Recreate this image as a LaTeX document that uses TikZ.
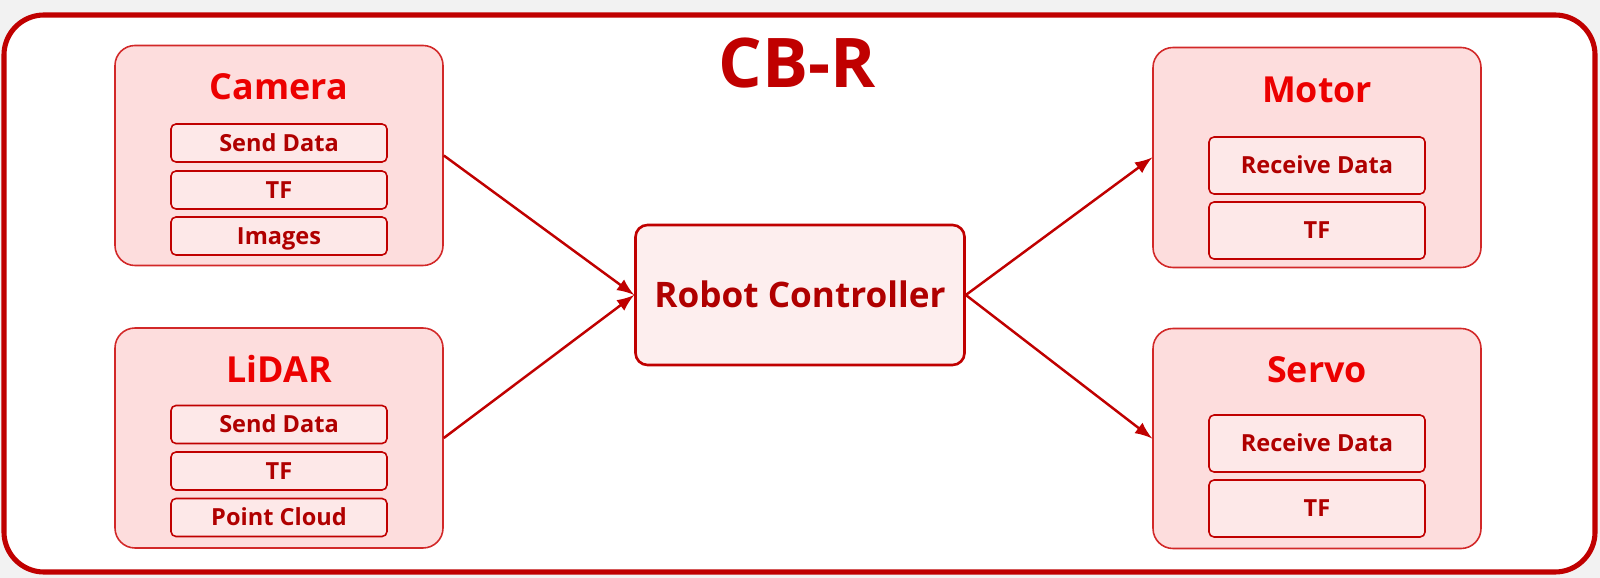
\documentclass[tikz,border=0pt]{standalone}
\usepackage{fontspec}
\setmainfont{Open Sans}
\usetikzlibrary{arrows,positioning}
\definecolor{cbred}{RGB}{192,0,0}
\definecolor{titlered}{RGB}{236,0,0}
\definecolor{itemred}{RGB}{176,0,0}
\definecolor{grpline}{RGB}{210,40,40}
\definecolor{grpfill}{RGB}{253,221,221}
\definecolor{itemfill}{RGB}{253,232,232}
\definecolor{ctrlfill}{RGB}{253,238,238}
\definecolor{bggray}{RGB}{242,242,242}
\begin{document}
\begin{tikzpicture}[auto,every text node part/.style={align=center},
    group/.style={draw=grpline,fill=grpfill,line width=.45pt,rounded corners=.2cm,minimum width=3.28cm,minimum height=2.2cm,inner sep=0pt},
    grptitle/.style={text=titlered,font=\bfseries\fontsize{10.2}{12}\selectfont,text height=7.3pt,text depth=0pt},
    item/.style={draw=cbred,fill=itemfill,line width=.45pt,rounded corners=.05cm,minimum width=2.16cm,minimum height=.38cm,inner sep=0pt,text=itemred,font=\bfseries\fontsize{6.7}{8}\selectfont,text height=4.8pt,text depth=0pt},
    bigitem/.style={item,minimum height=.57cm},
    link/.style={->,>=latex,draw=cbred,line width=.7pt}]
    \fill[bggray] (0,0) rectangle (16,-5.78);
    \draw[cbred,line width=1.45pt,fill=white,rounded corners=.4cm] (0.04,-0.15) rectangle (15.95,-5.72);

    \node[text=cbred,font=\bfseries\fontsize{19.5}{23}\selectfont,text height=13.9pt,text depth=0pt] (cbr) at (7.97,-0.63) {CB-R};

    \node[group] (camera) at (2.79,-1.555) {};
    \node[grptitle] (cameratitle) at (2.79,-0.87) {Camera};
    \node[item] (camsend) at (2.79,-1.43) {Send Data};
    \node[item] (camtf) at (2.79,-1.90) {TF};
    \node[item] (camimg) at (2.79,-2.36) {Images};

    \node[group] (lidar) at (2.79,-4.38) {};
    \node[grptitle] (lidartitle) at (2.79,-3.70) {LiDAR};
    \node[item] (lidsend) at (2.79,-4.245) {Send Data};
    \node[item] (lidtf) at (2.79,-4.71) {TF};
    \node[item] (lidcloud) at (2.79,-5.175) {Point Cloud};

    \node[draw=cbred,fill=ctrlfill,line width=.75pt,rounded corners=.12cm,minimum width=3.29cm,minimum height=1.4cm,inner sep=0pt,
          text=itemred,font=\bfseries\fontsize{10}{12}\selectfont,text height=7.1pt,text depth=0pt] (ctrl) at (8.0,-2.95) {Robot Controller};

    \node[group] (motor) at (13.17,-1.575) {};
    \node[grptitle] (motortitle) at (13.17,-0.90) {Motor};
    \node[bigitem] (motrecv) at (13.17,-1.655) {Receive Data};
    \node[bigitem] (mottf) at (13.17,-2.305) {TF};

    \node[group] (servo) at (13.17,-4.385) {};
    \node[grptitle] (servotitle) at (13.17,-3.70) {Servo};
    \node[bigitem] (serrecv) at (13.17,-4.435) {Receive Data};
    \node[bigitem] (sertf) at (13.17,-5.085) {TF};

    \draw[link] (camera.east) -- (ctrl.west);
    \draw[link] (lidar.east) -- (ctrl.west);
    \draw[link] (ctrl.east) -- (motor.west);
    \draw[link] (ctrl.east) -- (servo.west);

\end{tikzpicture}
\end{document}
